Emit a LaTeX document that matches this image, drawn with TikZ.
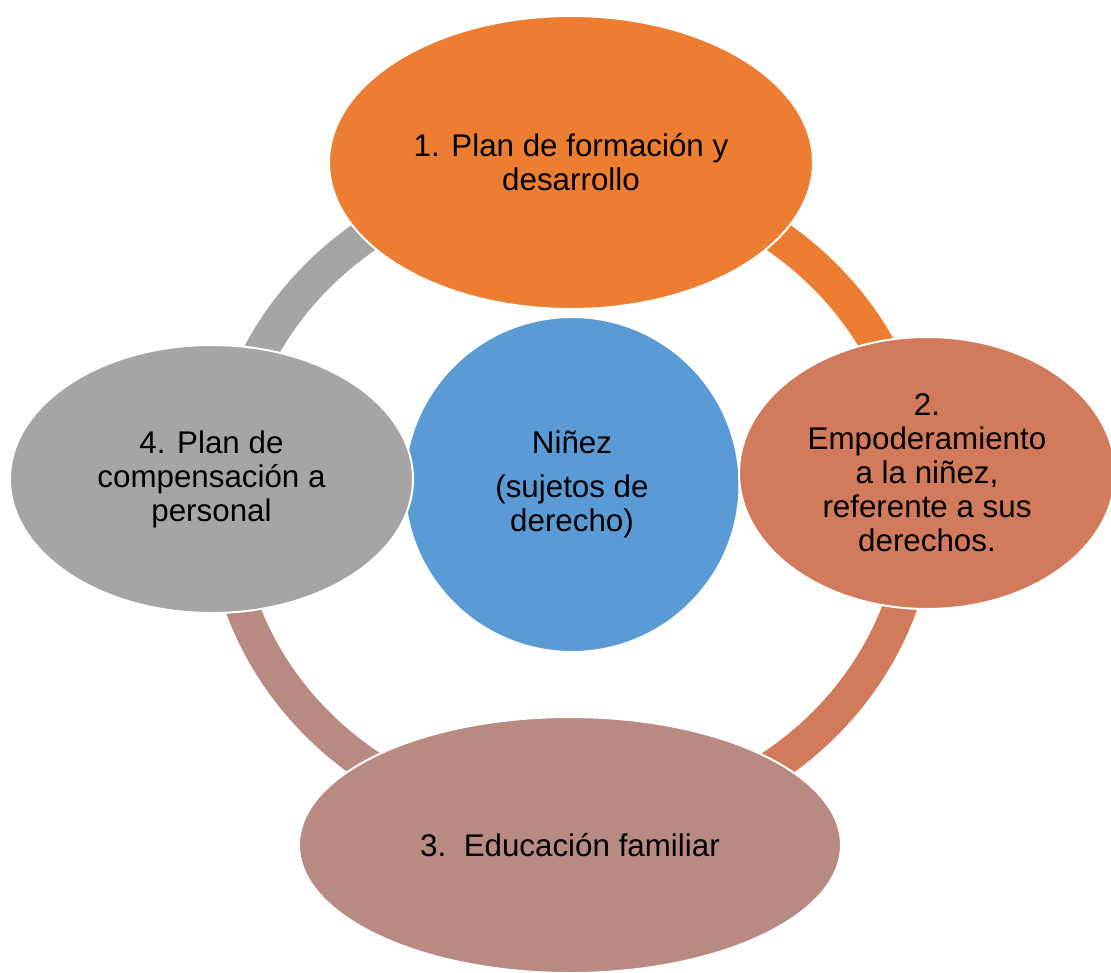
\documentclass[tikz,border=0pt]{standalone}
\usepackage{fontspec}
\setmainfont{Liberation Sans}
\usetikzlibrary{shapes.geometric}
\definecolor{formacion}{HTML}{ED7D31}
\definecolor{empodera}{HTML}{D27B5C}
\definecolor{educacion}{HTML}{B88A81}
\definecolor{compensa}{HTML}{A5A5A5}
\definecolor{ninez}{HTML}{5B9BD5}

\begin{document}
\begin{tikzpicture}[x=0.75pt, y=-0.75pt,
    etapa/.style={ellipse, draw=white, line width=1.5pt, inner sep=0pt, align=center,
      font=\fontsize{23.5}{25.5}\selectfont},
    tramo/.style={line width=25.5pt}]
  \useasboundingbox (0,0) rectangle (1111,972);
  \coordinate (hub) at (571,500);
  % ring, one quarter per stage
  \draw[tramo, formacion] ([shift={(0,-327)}]hub) arc[start angle=-90, end angle=0, x radius=348, y radius=327];
  \draw[tramo, empodera] ([shift={(348,0)}]hub) arc[start angle=0, end angle=90, x radius=348, y radius=327];
  \draw[tramo, educacion] ([shift={(0,327)}]hub) arc[start angle=90, end angle=180, x radius=348, y radius=327];
  \draw[tramo, compensa] ([shift={(-348,0)}]hub) arc[start angle=180, end angle=270, x radius=348, y radius=327];
  \node[etapa, circle, fill=ninez, minimum size=251.25pt] (ninez) at (572,484.5)
    {Niñez\\[8pt](sujetos de\\derecho)};
  \node[etapa, fill=formacion, minimum width=363pt, minimum height=219.75pt] (plan) at (571,162.5)
    {1. Plan de formación y\\desarrollo};
  \node[etapa, fill=empodera, minimum width=282pt, minimum height=204pt] (empo) at (927,473)
    {2.\\Empoderamiento\\a la niñez,\\referente a sus\\derechos.};
  \node[etapa, fill=educacion, minimum width=406.5pt, minimum height=192pt] (edu) at (570,845)
    {3.\ \ Educación familiar};
  \node[etapa, fill=compensa, minimum width=302.25pt, minimum height=201pt] (comp) at (211.5,479)
    {4. Plan de\\compensación a\\personal};
\end{tikzpicture}
\end{document}
